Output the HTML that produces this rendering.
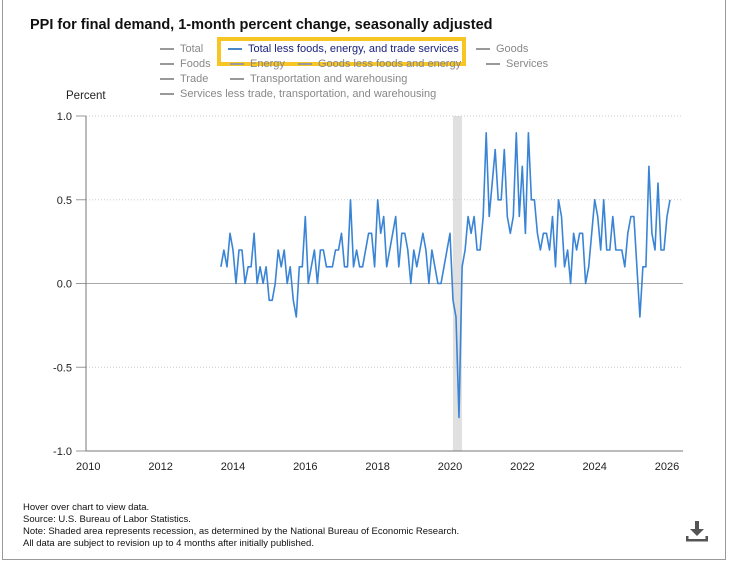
<!DOCTYPE html>
<html><head><meta charset="utf-8">
<style>
body{margin:0;width:730px;height:563px;background:#fff;font-family:"Liberation Sans",sans-serif;overflow:hidden;position:relative}
.frame{position:absolute;left:2px;top:-2px;width:724px;height:562px;border:1px solid #999;box-sizing:border-box}
.title{position:absolute;left:30px;top:17px;font-size:14.5px;font-weight:bold;color:#111}
.leg{position:absolute;font-size:11px;color:#888;white-space:nowrap}
.leg span.l{display:inline-block;width:14px;height:2px;background:#999;vertical-align:middle;margin-right:6px}
.foot{position:absolute;left:23px;font-size:9.5px;color:#111;white-space:nowrap}
</style></head><body>
<div class="frame"></div>
<div class="title">PPI for final demand, 1-month percent change, seasonally adjusted</div>
<div class="leg" style="left:160px;top:43px"><span class="l"></span>Total</div>
<div style="position:absolute;left:217px;top:37px;width:241px;height:21px;border:4px solid #f7c625;box-sizing:content-box"></div>
<div class="leg" style="left:228px;top:43px;color:#1a237e"><span class="l" style="background:#4a86c8"></span>Total less foods, energy, and trade services</div>
<div class="leg" style="left:476px;top:43px"><span class="l"></span>Goods</div>
<div class="leg" style="left:160px;top:58px"><span class="l"></span>Foods</div>
<div class="leg" style="left:230px;top:58px"><span class="l"></span>Energy</div>
<div class="leg" style="left:298px;top:58px"><span class="l"></span>Goods less foods and energy</div>
<div class="leg" style="left:486px;top:58px"><span class="l"></span>Services</div>
<div class="leg" style="left:160px;top:73px"><span class="l"></span>Trade</div>
<div class="leg" style="left:230px;top:73px"><span class="l"></span>Transportation and warehousing</div>
<div class="leg" style="left:160px;top:88px"><span class="l"></span>Services less trade, transportation, and warehousing</div>
<div style="position:absolute;left:66px;top:90px;font-size:11.5px;color:#222">Percent</div>
<svg id="chart" width="730" height="563" style="position:absolute;left:0;top:0"></svg>
<div class="foot" style="top:502px">Hover over chart to view data.</div>
<div class="foot" style="top:514px">Source: U.S. Bureau of Labor Statistics.</div>
<div class="foot" style="top:526px">Note: Shaded area represents recession, as determined by the National Bureau of Economic Research.</div>
<div class="foot" style="top:538px">All data are subject to revision up to 4 months after initially published.</div>
<svg style="position:absolute;left:686px;top:520px" width="22" height="24">
<rect x="9" y="1" width="4" height="9" fill="#555"/><polygon points="4,9 18,9 11,16" fill="#555"/><rect x="0" y="19" width="22" height="2.5" fill="#555"/><rect x="0" y="16" width="2.5" height="5" fill="#555"/><rect x="19.5" y="16" width="2.5" height="5" fill="#555"/></svg>
<script>
const startYear = 2013 + 8/12;
const values = [0.1,0.2,0.1,0.3,0.2,0,0.2,0.2,0,0.1,0.1,0.3,0,0.1,0,0.1,-0.1,-0.1,0,0.2,0.1,0.2,0,0.1,-0.1,-0.2,0.1,0.1,0.4,0,0.1,0.2,0,0.2,0.2,0.1,0.1,0.1,0.2,0.2,0.3,0.1,0.1,0.5,0.1,0.2,0.1,0.1,0.2,0.3,0.3,0.1,0.5,0.3,0.4,0.1,0.2,0.3,0.4,0.1,0.3,0.3,0.2,0,0.2,0.1,0.2,0.3,0.2,0,0.2,0.1,0,0,0.1,0.2,0.3,
-0.1,-0.2,-0.8,0.1,0.2,0.4,0.3,0.4,0.2,0.2,0.4,0.9,0.4,0.6,0.8,0.5,0.5,0.8,0.4,0.3,0.4,0.9,0.4,0.7,0.3,0.9,0.5,0.5,0.3,0.2,0.3,0.3,0.2,0.4,0.1,0.5,0.4,0.1,0.2,0,0.3,0.2,0.3,0.3,0,0.1,0.3,0.5,0.4,0.2,0.5,0.2,0.2,0.4,0.2,0.2,0.2,0.1,0.3,0.4,0.4,0.1,-0.2,0.1,0.1,0.7,0.3,0.2,0.6,0.2,0.2,0.4,0.5];
const yTicks = [1.0,0.5,0.0,-0.5,-1.0];
const yTickLabels = ["1.0","0.5","0.0","-0.5","-1.0"];
const xTicks = [2010,2012,2014,2016,2018,2020,2022,2024,2026];
const recession = [2020.08, 2020.33];

const svg = document.getElementById('chart');
const NS='http://www.w3.org/2000/svg';
const L=86,R=683,T=116,B=451;
const xS = yr => 88.3 + (yr-2010)*36.17;
const yS = v => 283.5 - v*167.5;
function mk(tag,attrs){const e=document.createElementNS(NS,tag);for(const k in attrs)e.setAttribute(k,attrs[k]);svg.appendChild(e);return e;}

const rec = mk('rect',{x:xS(recession[0]),y:T,width:xS(recession[1])-xS(recession[0]),height:B-T,fill:'#e0e0e0'});



yTicks.forEach((v,i)=>{
  const y=yS(v);
  const g = mk('line',{x1:L,x2:R,y1:y,y2:y,stroke:v===0?'#aaa':'#ccc','stroke-width':1,'stroke-dasharray':(v===0||v===-1)?'':'1,2'});
  
  
  const tk = mk('line',{x1:L-10,x2:L,y1:y,y2:y,stroke:'#999'});
  
  
  const t = mk('text',{x:72,y:y+4,'text-anchor':'end','font-size':11,fill:'#222','font-family':'Liberation Sans, sans-serif'});
  t.textContent = yTickLabels[i];
  
  
});
const ax = mk('line',{x1:L,x2:L,y1:T,y2:B,stroke:'#777'});


const bx = mk('line',{x1:L,x2:R,y1:B,y2:B,stroke:'#777'});


xTicks.forEach(yr=>{
  const t = mk('text',{x:xS(yr),y:470,'text-anchor':'middle','font-size':11,fill:'#222','font-family':'Liberation Sans, sans-serif'});
  t.textContent = yr;
  
  
});
const pts = values.map((v,i)=>xS(startYear+i/12).toFixed(1)+','+yS(v).toFixed(1)).join(' ');
const line = mk('polyline',{points:pts,fill:'none',stroke:'#3a84d6','stroke-width':1.6,'stroke-linejoin':'round'});


</script>
</body></html>
